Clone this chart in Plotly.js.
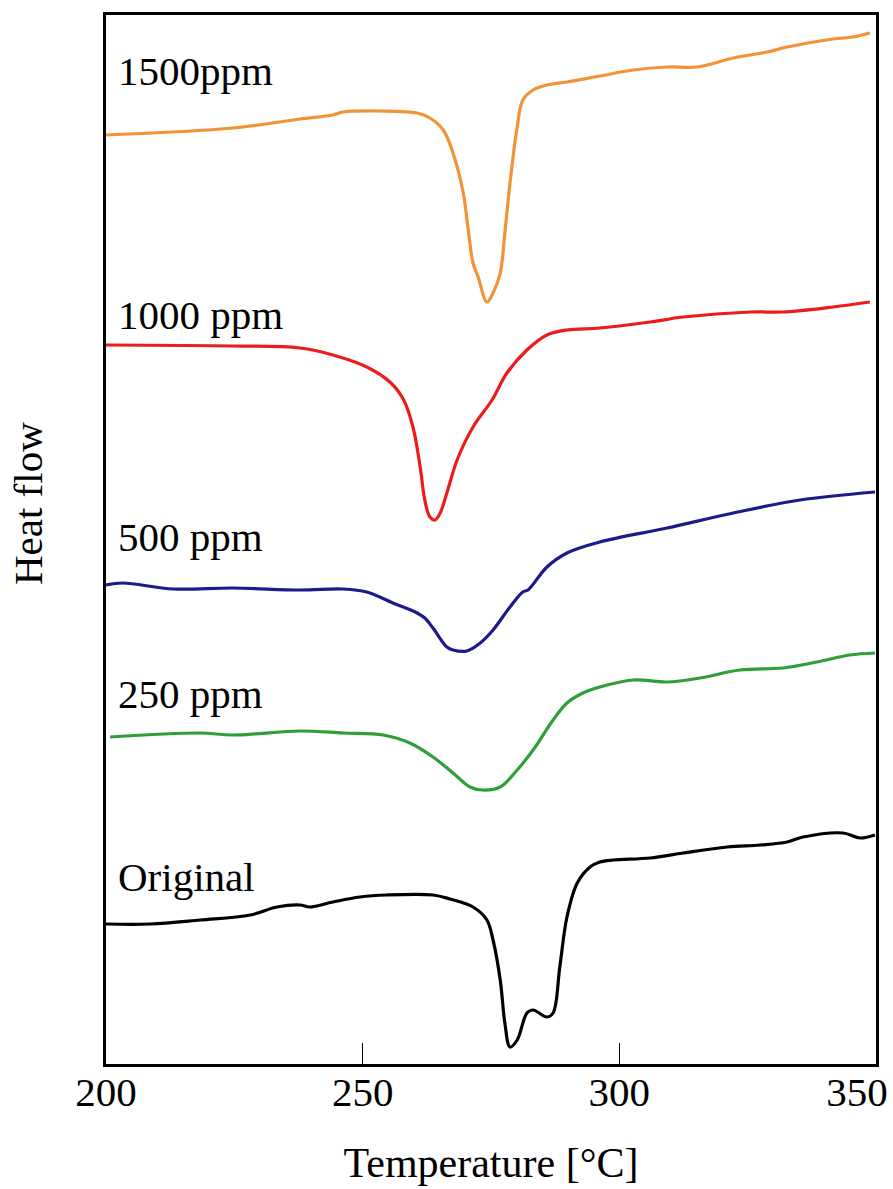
<!DOCTYPE html>
<html>
<head>
<meta charset="utf-8">
<script src="https://cdn.plot.ly/plotly-3.0.1.min.js"></script>
<style>html,body{margin:0;padding:0;background:#fff;}#chart{width:893px;height:1189px;}</style>
</head>
<body>
<div id="chart"></div>
<script>
// Temperature (°C) and heat flow (arbitrary units, offset stacked as in figure)
const t1500 = [200, 224.7, 237.8, 244.2, 246.2, 253.4, 260.6, 263.1, 265.7, 267.6, 269.6, 270.5, 271.5, 272.5, 274.2, 275.4, 276.8, 277.7, 278.7, 280.1, 281.2, 283.2, 285.9, 289.8, 296.2, 302.7, 309.3, 315.1, 322.2, 328.8, 332.7, 341.6, 345.5, 348.8];
const h1500 = [929, 936, 945, 949, 952, 953, 951, 946, 934, 911, 871, 837, 801, 787, 762, 771, 791, 831, 881, 937, 964, 974, 979, 982, 988, 994, 997, 997, 1006, 1012, 1017, 1025, 1027, 1031];

const t1000 = [200, 224.7, 237.8, 244.2, 250.8, 255.3, 257.9, 259.8, 261.2, 262.1, 263.1, 264.1, 265.1, 266.4, 268.4, 271.5, 275.2, 278.1, 282.0, 285.9, 289.8, 296.2, 306.0, 312.4, 325.5, 331.9, 341.6, 348.8];
const h1000 = [719, 718, 716, 709, 697, 682, 665, 637, 597, 564, 547, 544, 551, 571, 604, 637, 664, 691, 714, 729, 734, 736, 742, 747, 752, 752, 757, 762];

const t500 = [200, 203.3, 213.1, 224.7, 237.8, 246.2, 250.8, 255.9, 260.6, 262.1, 263.7, 266.4, 267.6, 270.3, 272.9, 275.4, 278.7, 281.2, 282.2, 285.9, 289.8, 296.2, 309.3, 322.2, 335.2, 349.8];
const h500 = [479, 481, 475, 476, 474, 475, 472, 461, 451, 446, 436, 417, 414, 413, 421, 434, 457, 472, 474, 497, 511, 522, 536, 551, 564, 572];

const t250 = [200.8, 218.3, 224.7, 237.8, 246.2, 254.0, 259.2, 263.7, 267.6, 270.9, 273.4, 276.8, 280.1, 283.2, 287.1, 289.8, 292.9, 296.2, 302.7, 309.3, 315.7, 323.5, 331.9, 338.5, 344.9, 349.8];
const h250 = [327, 331, 329, 333, 331, 329, 321, 307, 291, 277, 274, 277, 294, 314, 344, 361, 371, 377, 384, 382, 386, 394, 396, 402, 409, 411];

const tOrig = [200, 208.6, 218.3, 228.1, 233.3, 237.8, 239.7, 244.2, 249.5, 254.7, 263.7, 267.0, 271.5, 274.2, 275.4, 276.8, 277.7, 278.7, 280.1, 282.0, 283.2, 285.9, 287.1, 288.4, 289.8, 291.8, 294.3, 296.2, 298.8, 306.0, 312.4, 321.0, 327.4, 332.7, 335.8, 343.6, 346.9, 349.8];
const hOrig = [140, 140, 144, 149, 157, 159, 157, 162, 167, 169, 169, 165, 157, 144, 124, 84, 41, 17, 24, 51, 54, 47, 51, 97, 147, 181, 197, 202, 204, 206, 211, 217, 219, 222, 227, 231, 226, 229];

const seriesNames = ["1500ppm", "1000 ppm", "500 ppm", "250 ppm", "Original"];
const labelY = [993, 749, 527, 370, 187];
const labelX = [202, 202, 202, 202, 202];
const xTickVals = [200, 250, 300];
const xTickText = ["200", "250", "300"];
const xEndTickVals = [350];
const xEndTickText = ["350"];

const font = "Liberation Serif, Times New Roman, serif";
const colors = ["#F39237", "#EC1C1C", "#1F1A8A", "#2E9E38", "#000000"];
const xs = [t1500, t1000, t500, t250, tOrig];
const ys = [h1500, h1000, h500, h250, hOrig];

const traces = xs.map((x, i) => ({
  x: x, y: ys[i], type: "scatter", mode: "lines", name: seriesNames[i],
  line: {color: colors[i], width: 3.2, shape: "spline", smoothing: 1},
  hoverinfo: "skip"
}));

const annotations = seriesNames.map((s, i) => ({
  x: labelX[i], y: labelY[i], xref: "x", yref: "y", text: s, showarrow: false,
  xanchor: "left", yanchor: "middle", font: {family: font, size: 41, color: "#000"}
}));
annotations.push({
  x: -0.101, y: 0.534, xref: "paper", yref: "paper", text: "Heat flow", showarrow: false,
  textangle: -90, xanchor: "center", yanchor: "middle", font: {family: font, size: 41, color: "#000"}
});

const layout = {
  width: 893, height: 1189,
  margin: {l: 106, r: 17, t: 15, b: 125},
  paper_bgcolor: "#fff", plot_bgcolor: "#fff",
  showlegend: false,
  font: {family: font, color: "#000"},
  xaxis: {
    range: [200, 350], tickvals: xTickVals, ticktext: xTickText,
    ticks: "inside", ticklen: 21, tickwidth: 1.2, tickcolor: "#000",
    ticklabelstandoff: -10,
    showline: true, linecolor: "#000", linewidth: 3, mirror: true,
    showgrid: false, zeroline: false,
    tickfont: {family: font, size: 41, color: "#000"},
    title: {text: "Temperature [°C]", font: {family: font, size: 42, color: "#000"}, standoff: 34}
  },
  xaxis2: {
    overlaying: "x", matches: "x", anchor: "y", side: "bottom",
    range: [200, 350], tickvals: xEndTickVals, ticktext: xEndTickText,
    ticks: "", ticklabelstandoff: 0, ticklabelshift: -19, ticklabeloverflow: "allow",
    showline: false, showgrid: false, zeroline: false,
    tickfont: {family: font, size: 41, color: "#000"}
  },
  yaxis: {
    range: [0, 1049], showticklabels: false, ticks: "",
    showline: true, linecolor: "#000", linewidth: 3, mirror: true,
    showgrid: false, zeroline: false
  },
  annotations: annotations
};

// invisible helper trace so the second x axis (carrying the 350 label) is drawn
traces.push({x: [350], y: [0], xaxis: "x2", yaxis: "y", type: "scatter", mode: "markers",
  marker: {opacity: 0}, hoverinfo: "skip", showlegend: false});

Plotly.newPlot("chart", traces, layout, {staticPlot: true, displayModeBar: false});
</script>
</body>
</html>
